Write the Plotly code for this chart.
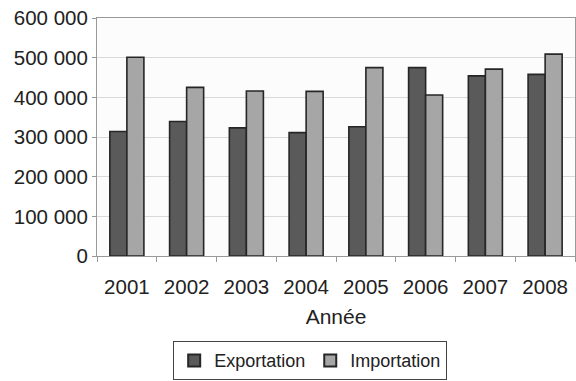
import plotly.graph_objects as go

# Annual trade volumes
annees = ["2001", "2002", "2003", "2004", "2005", "2006", "2007", "2008"]
exportation = [314000, 339000, 323000, 311000, 326000, 475000, 454000, 458000]
importation = [501000, 425000, 416000, 415000, 475000, 406000, 471000, 509000]

y_ticks = [0, 100000, 200000, 300000, 400000, 500000, 600000]
y_tick_labels = ["0", "100 000", "200 000", "300 000", "400 000", "500 000", "600 000"]

FONT = "Arial"
OUTLINE = dict(color="#262626", width=1.6)

fig = go.Figure()
fig.add_trace(go.Bar(name="Exportation", x=annees, y=exportation,
                     marker=dict(color="#5a5a5a", line=OUTLINE)))
fig.add_trace(go.Bar(name="Importation", x=annees, y=importation,
                     marker=dict(color="#a6a6a6", line=OUTLINE)))

fig.update_layout(
    width=576, height=381,
    margin=dict(l=97, r=1, t=18, b=119),
    paper_bgcolor="white",
    plot_bgcolor="#fcfcfc",
    barmode="group",
    bargap=0.43,
    bargroupgap=0,
    font=dict(family=FONT, color="#222222", size=20),
    showlegend=True,
    legend=dict(
        orientation="h",
        x=0.446, xanchor="center", xref="paper",
        y=-0.358, yanchor="top",
        font=dict(family=FONT, size=18, color="#222222"),
        bordercolor="#444444", borderwidth=1,
        bgcolor="white",
        itemsizing="constant",
        tracegroupgap=0,
    ),
)

fig.update_xaxes(
    type="category",
    tickson="boundaries",
    ticks="outside", ticklen=5, tickcolor="#999999",
    ticklabelstandoff=12,
    showline=True, linecolor="#999999", linewidth=1, mirror=True,
    showgrid=False,
    tickfont=dict(family=FONT, size=20.5),
    title=dict(text="Année", font=dict(family=FONT, size=21), standoff=12),
)

fig.update_yaxes(
    range=[0, 600000],
    tickvals=y_ticks, ticktext=y_tick_labels,
    ticks="outside", ticklen=4, tickcolor="#999999",
    showline=True, linecolor="#999999", linewidth=1, mirror=True,
    showgrid=True, gridcolor="#d9d9d9", gridwidth=1,
    zeroline=False,
    tickfont=dict(family=FONT, size=20.5),
)

fig.write_html("out.html")
